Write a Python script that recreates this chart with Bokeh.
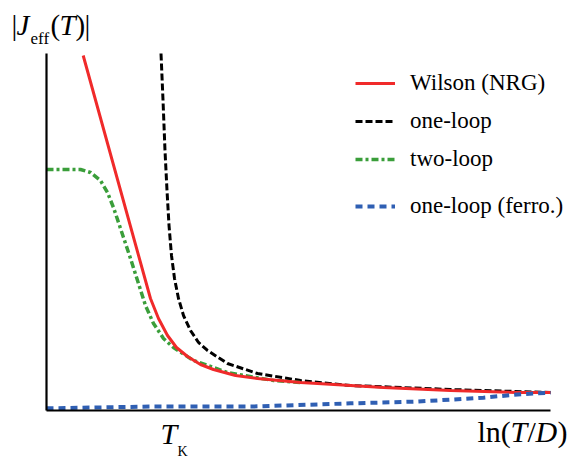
from bokeh.plotting import figure
from bokeh.models import Range1d, Label, Legend, LegendItem
from bokeh.embed import file_html
from bokeh.resources import INLINE

# x: ln(T/D) in arbitrary units (0..10), y: |J_eff(T)| arbitrary units (0..10)
wilson_x = [0.728, 1.964, 2.063, 2.222, 2.401, 2.579, 2.798, 3.056, 3.313, 3.750, 4.187, 5.040, 5.377, 6.687, 8.016, 9.345, 10.0]
wilson_y = [9.944, 3.641, 3.137, 2.577, 2.101, 1.765, 1.513, 1.289, 1.148, 0.980, 0.896, 0.784, 0.756, 0.644, 0.560, 0.504, 0.504]

oneloop_x = [2.272, 2.312, 2.351, 2.391, 2.431, 2.480, 2.540, 2.619, 2.718, 2.857, 3.016, 3.194, 3.591, 4.187, 5.040, 6.032, 8.016, 10.0]
oneloop_y = [10.0, 8.683, 7.283, 6.162, 5.182, 4.342, 3.697, 3.137, 2.661, 2.241, 1.905, 1.681, 1.317, 1.036, 0.840, 0.700, 0.588, 0.504]

twoloop_x = [0.0, 0.675, 0.873, 1.071, 1.210, 1.329, 1.429, 1.528, 1.667, 1.806, 1.964, 2.123, 2.321, 2.520, 2.917, 3.591, 4.504, 5.040]
twoloop_y = [6.751, 6.751, 6.667, 6.443, 6.106, 5.686, 5.266, 4.846, 4.258, 3.641, 2.941, 2.437, 2.017, 1.765, 1.401, 1.064, 0.840, 0.784]

ferro_x = [0.0, 2.06, 4.05, 6.03, 7.36, 8.67, 9.35, 10.0]
ferro_y = [0.06, 0.11, 0.11, 0.20, 0.25, 0.36, 0.45, 0.50]

labels = ["Wilson (NRG)", "one-loop", "two-loop", "one-loop (ferro.)"]

SERIF = "Liberation Serif"
W, H = 571, 459
# pixel placement of the data box (0..10 x 0..10)
X0, X1 = 46, 550
Y0, Y1 = 410, 53
sx = (X1 - X0) / 10.0
sy = (Y0 - Y1) / 10.0

p = figure(width=W, height=H, output_backend="svg", toolbar_location=None,
           x_axis_type=None, y_axis_type=None,
           x_range=Range1d(-X0 / sx, (W - X0) / sx),
           y_range=Range1d((Y0 - H) / sy, Y0 / sy),
           min_border=0)
p.outline_line_color = None
p.background_fill_color = "white"
p.border_fill_color = "white"

r_black = p.line(oneloop_x, oneloop_y, line_color="black", line_width=3, line_dash="7 3")
r_green = p.line(twoloop_x, twoloop_y, line_color="#3a9e3a", line_width=3.5, line_dash="7 3 3 3")
r_red = p.line(wilson_x, wilson_y, line_color="#f02a2a", line_width=3)
r_blue = p.line(ferro_x, ferro_y, line_color="#2f5fb3", line_width=4, line_dash="7 5")

# axis lines (left and bottom)
xmin, xmax = min(ferro_x), max(ferro_x)
ymax = max(oneloop_y)
p.segment(x0=[xmin, xmin], y0=[0, 0], x1=[xmin, xmax], y1=[ymax, 0],
          line_color="black", line_width=2.2)

leg1 = Legend(items=[LegendItem(label=labels[0], renderers=[r_red]),
                     LegendItem(label=labels[1], renderers=[r_black]),
                     LegendItem(label=labels[2], renderers=[r_green])],
              location=(355, H - 177))
leg2 = Legend(items=[LegendItem(label=labels[3], renderers=[r_blue])],
              location=(355, H - 224))
for lg in (leg1, leg2):
    lg.padding = 0
    lg.margin = 0
    lg.spacing = 2
    lg.glyph_width = 40
    lg.glyph_height = 36
    lg.label_height = 36
    lg.label_standoff = 15
    lg.label_text_font = SERIF
    lg.label_text_font_size = "23px"
    lg.label_text_color = "black"
    lg.border_line_alpha = 0
    lg.background_fill_alpha = 0
    p.add_layout(lg)


def px_x(px):
    return (px - X0) / sx


def px_y(py, size):
    # baseline correction proportional to font size
    return (Y0 - (py - 0.4 * size)) / sy


def lab(text, x, y, size, italic=False):
    p.add_layout(Label(x=px_x(x), y=px_y(y, size), text=text, text_font=SERIF,
                       text_font_size=f"{size}px",
                       text_font_style="italic" if italic else "normal",
                       text_color="black", text_baseline="alphabetic", text_align="left"))


# y-axis title |J_eff(T)|
lab("|", 11, 36, 29)
lab("J", 16, 36, 29, True)
lab("eff", 30, 45, 17)
lab("(", 50, 36, 29)
lab("T", 59, 36, 29, True)
lab(")", 75, 36, 29)
lab("|", 84, 36, 29)

# T_K tick label
lab("T", 160, 445, 30, True)
lab("K", 177, 457, 14)

# x-axis title ln(T/D)
lab("ln(", 477, 443, 30)
lab("T", 510, 443, 30, True)
lab("/", 527, 443, 30)
lab("D", 535, 443, 30, True)
lab(")", 557, 443, 30)

open("out.html", "w").write(file_html(p, INLINE))
